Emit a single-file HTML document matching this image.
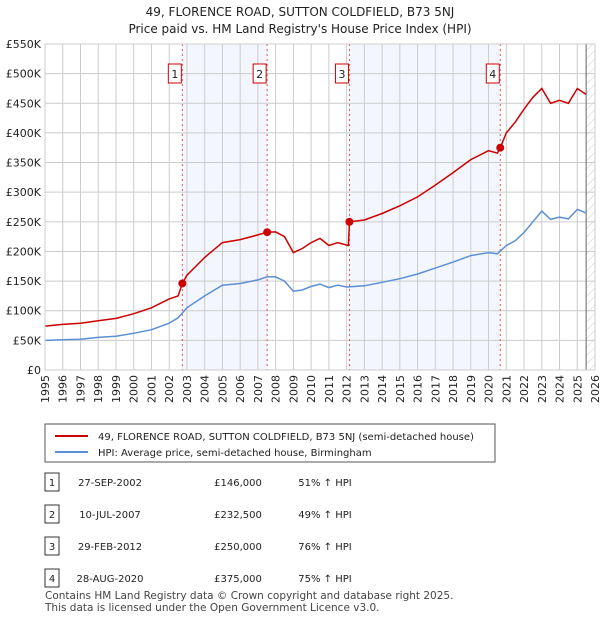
<!DOCTYPE html>
<html><head><meta charset="utf-8"><style>
body{margin:0;background:#fff;font-family:"Liberation Sans","DejaVu Sans",sans-serif;}
svg text{font-family:"DejaVu Sans","Liberation Sans",sans-serif;}
</style></head><body>
<svg width="600" height="620" xmlns="http://www.w3.org/2000/svg">
<defs><pattern id="hatch" width="6" height="6" patternUnits="userSpaceOnUse" patternTransform="rotate(45)"><line x1="0" y1="0" x2="0" y2="6" stroke="#ccc" stroke-width="1"/></pattern></defs>
<text x="300" y="16" text-anchor="middle" font-size="12" fill="#222">49, FLORENCE ROAD, SUTTON COLDFIELD, B73 5NJ</text>
<text x="300" y="33" text-anchor="middle" font-size="12" fill="#222">Price paid vs. HM Land Registry's House Price Index (HPI)</text>
<g id="plot"></g>
<g id="legend">
<rect x="45" y="424" width="450" height="38" fill="#fff" stroke="#555"/>
<line x1="55" y1="436" x2="88" y2="436" stroke="#cc0000" stroke-width="2"/>
<text x="98" y="440" font-size="10" fill="#222">49, FLORENCE ROAD, SUTTON COLDFIELD, B73 5NJ (semi-detached house)</text>
<line x1="55" y1="452" x2="88" y2="452" stroke="#5b8fd6" stroke-width="2"/>
<text x="98" y="456" font-size="10" fill="#222">HPI: Average price, semi-detached house, Birmingham</text>
</g>
<g id="table"></g>
<text x="45" y="599" font-size="10.5" fill="#444">Contains HM Land Registry data © Crown copyright and database right 2025.</text>
<text x="45" y="611" font-size="10.5" fill="#444">This data is licensed under the Open Government Licence v3.0.</text>
</svg>
<script>
const hpiYears=[1995,1996,1997,1998,1999,2000,2001,2002,2002.5,2003,2004,2005,2006,2007,2007.5,2008,2008.5,2009,2009.5,2010,2010.5,2011,2011.5,2012,2013,2014,2015,2016,2017,2018,2019,2020,2020.5,2021,2021.5,2022,2022.5,2023,2023.5,2024,2024.5,2025,2025.5];
const hpiValues=[50,51,52,55,57,62,68,79,88,105,125,143,146,152,157,157,150,133,135,141,145,139,143,140,142,148,154,162,172,182,193,198,196,210,218,232,250,268,254,258,255,271,265];
const redYears=[1995,1996,1997,1998,1999,2000,2001,2002,2002.5,2002.74,2003,2004,2005,2006,2007,2007.52,2008,2008.5,2009,2009.5,2010,2010.5,2011,2011.5,2012.1,2012.16,2013,2014,2015,2016,2017,2018,2019,2020,2020.5,2020.66,2021,2021.5,2022,2022.5,2023,2023.5,2024,2024.5,2025,2025.5];
const redValues=[74,77,79,83,87,95,105,120,125,146,160,190,215,220,228,232.5,233,225,198,205,215,222,210,215,210,250,253,264,277,292,312,333,355,370,366,375,400,418,440,460,475,450,455,450,475,465];
const saleLabels=["1","2","3","4"];
const saleYears=[2002.74,2007.52,2012.16,2020.66];
const salePrices=[146,232.5,250,375];
const saleDates=["27-SEP-2002","10-JUL-2007","29-FEB-2012","28-AUG-2020"];
const salePriceText=["£146,000","£232,500","£250,000","£375,000"];
const saleHpiText=["51% ↑ HPI","49% ↑ HPI","76% ↑ HPI","75% ↑ HPI"];
const yTicks=[0,50,100,150,200,250,300,350,400,450,500,550];
const yTickLabels=["£0","£50K","£100K","£150K","£200K","£250K","£300K","£350K","£400K","£450K","£500K","£550K"];
const x0=45,x1=595,y0=370,y1=44;
const X=y=>x0+(y-1995)/31*(x1-x0);
const Y=v=>y0-v/550*(y0-y1);
const NS="http://www.w3.org/2000/svg";
function mk(tag,attrs,parent){const e=document.createElementNS(NS,tag);for(const k in attrs)e.setAttribute(k,attrs[k]);parent.appendChild(e);return e;}
const g=document.getElementById('plot');
for(let i=0;i<4;i+=2){const r=mk('rect',{x:X(saleYears[i]),y:y1,width:X(saleYears[i+1])-X(saleYears[i]),height:y0-y1,fill:'#f3f6fd'},g);

}
const h=mk('rect',{x:X(2025.5),y:y1,width:x1-X(2025.5),height:y0-y1,fill:'url(#hatch)'},g);


for(let yr=1995;yr<=2026;yr++){const l=mk('line',{x1:X(yr),x2:X(yr),y1:y1,y2:y0,stroke:'#ccc','stroke-width':1},g);


const t=mk('text',{x:0,y:0,'font-size':11,fill:'#222','text-anchor':'end',transform:`translate(${X(yr)+4},${y0+5}) rotate(-90)`},g);t.textContent=yr;

}
yTicks.forEach((v,i)=>{const l=mk('line',{x1:x0,x2:x1,y1:Y(v),y2:Y(v),stroke:'#ccc','stroke-width':1},g);


const t=mk('text',{x:x0-4,y:Y(v)+4,'font-size':11,fill:'#222','text-anchor':'end'},g);t.textContent=yTickLabels[i];

});
const bl=mk('line',{x1:X(2025.5),x2:X(2025.5),y1:y1,y2:y0,stroke:'#666','stroke-width':1},g);


saleYears.forEach((s,i)=>{const l=mk('line',{x1:X(s),x2:X(s),y1:y1,y2:y0,stroke:'#e05050','stroke-width':1,'stroke-dasharray':'2,3'},g);


const b=mk('rect',{x:X(s)-14,y:64,width:13,height:19,fill:'#fff',stroke:'#cc0000'},g);


const t=mk('text',{x:X(s)-7.5,y:78,'font-size':11,fill:'#222','text-anchor':'middle'},g);t.textContent=saleLabels[i];

});
const path=(xs,vs)=>xs.map((x,i)=>(i?'L':'M')+X(x).toFixed(1)+','+Y(vs[i]).toFixed(1)).join('');
const hp=mk('path',{d:path(hpiYears,hpiValues),fill:'none',stroke:'#5b8fd6','stroke-width':1.5},g);


const rp=mk('path',{d:path(redYears,redValues),fill:'none',stroke:'#cc0000','stroke-width':1.5},g);


saleYears.forEach((s,i)=>{const c=mk('circle',{cx:X(s),cy:Y(salePrices[i]),r:4,fill:'#cc0000'},g);

});
const ax=mk('rect',{x:x0,y:y1,width:x1-x0,height:y0-y1,fill:'none',stroke:'#ccc'},g);


const tb=document.getElementById('table');
saleLabels.forEach((lab,i)=>{const cy=482+i*32;
const b=mk('rect',{x:45,y:cy-9,width:14,height:18,fill:'#fff',stroke:'#333'},tb);


const cols=[[52,lab,'middle'],[110,saleDates[i],'middle'],[238,salePriceText[i],'middle'],[325,saleHpiText[i],'middle']];
cols.forEach(c=>{const t=mk('text',{x:c[0],y:cy+4,'font-size':10,fill:'#222','text-anchor':c[2]},tb);t.textContent=c[1];

});});
</script>
</body></html>
